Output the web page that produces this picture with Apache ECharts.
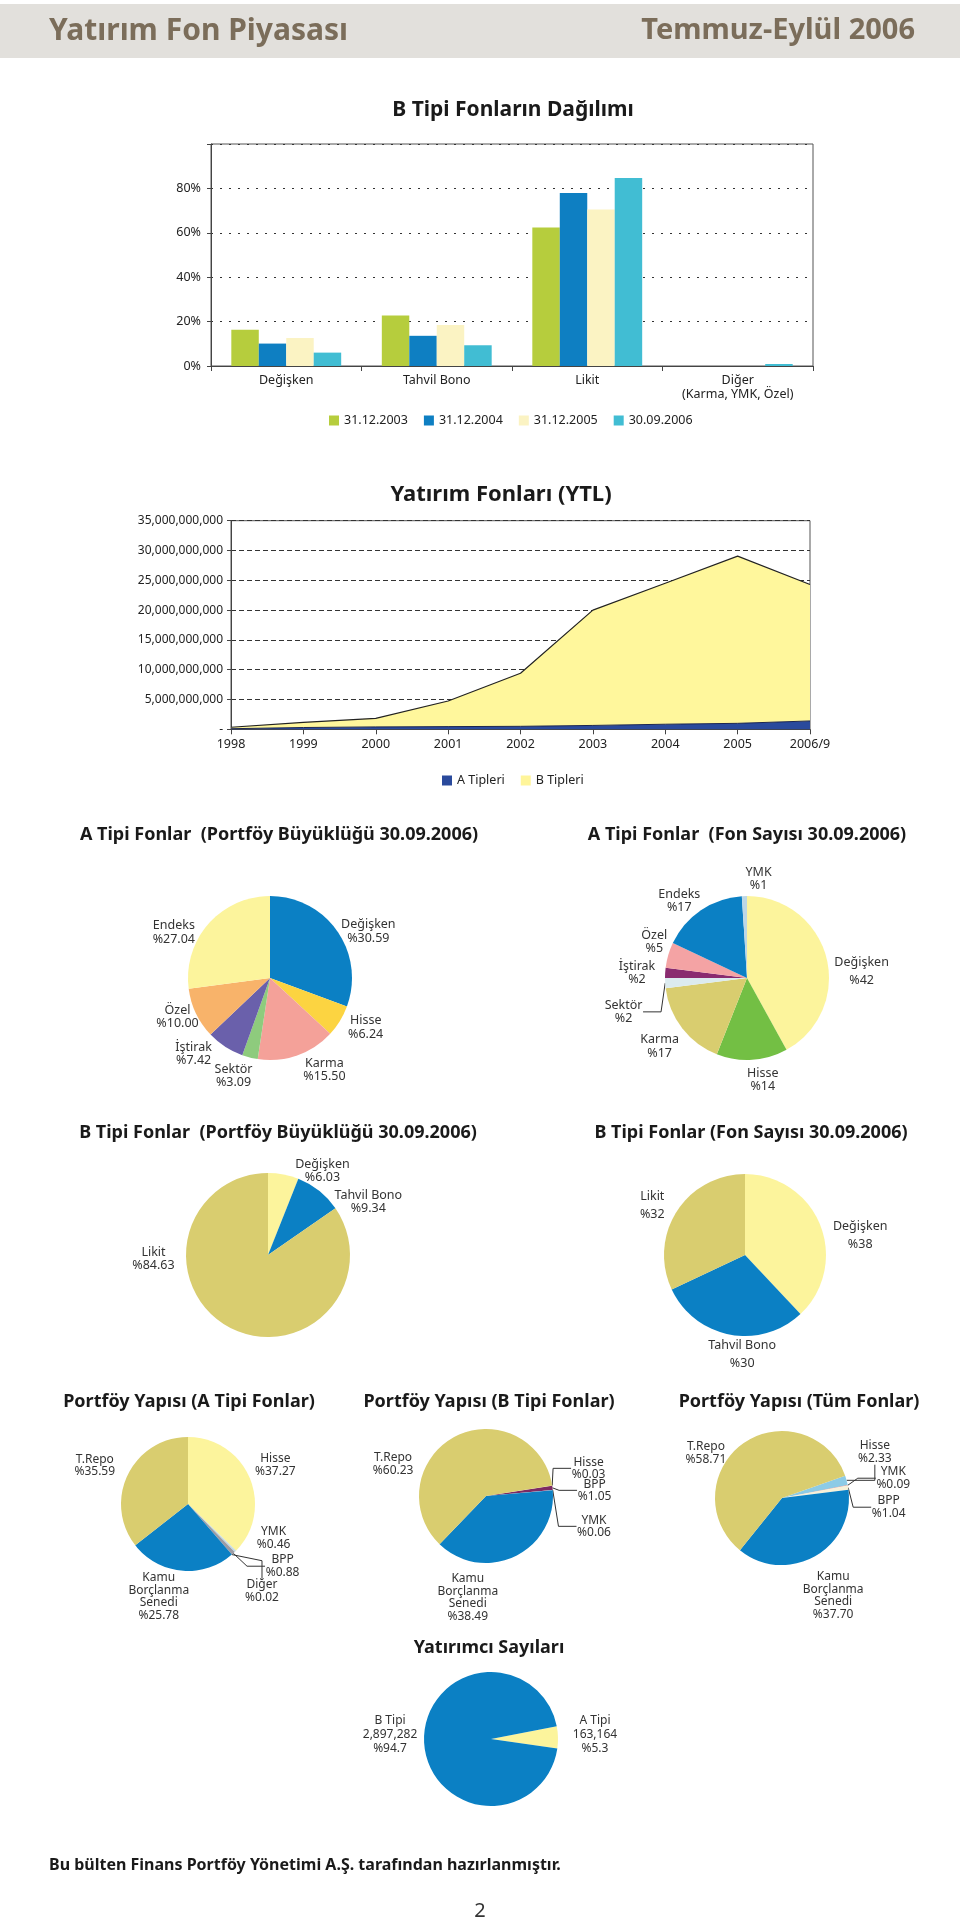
<!DOCTYPE html>
<html><head><meta charset="utf-8">
<script src="https://cdn.jsdelivr.net/npm/echarts@6/dist/echarts.min.js"></script>
<style>html,body{margin:0;padding:0;background:#fff}#c{width:960px;height:1925px}</style>
</head><body><div id="c"></div>
<script>
// ---------------- DATA ----------------
const barCategories = ['Değişken', 'Tahvil Bono', 'Likit', 'Diğer\n(Karma, YMK, Özel)'];
const barLegend = ['31.12.2003', '31.12.2004', '31.12.2005', '30.09.2006'];
const bar2003 = [16.3, 22.8, 62.4, 0];
const bar2004 = [10.1, 13.6, 77.9, 0];
const bar2005 = [12.6, 18.5, 70.5, 0];
const bar2006 = [6.03, 9.34, 84.63, 0.9];
const barTickLabels = [0, 20, 40, 60, 80];

const areaYears = ['1998', '1999', '2000', '2001', '2002', '2003', '2004', '2005', '2006/9'];
const areaLegend = ['A Tipleri', 'B Tipleri'];
const areaA = [100000000, 300000000, 400000000, 450000000, 500000000, 650000000, 850000000, 1000000000, 1400000000];
const areaB = [240000000, 870000000, 1440000000, 4300000000, 8900000000, 19350000000, 23650000000, 28050000000, 22900000000];

const aPortNames = ['Değişken', 'Hisse', 'Karma', 'Sektör', 'İştirak', 'Özel', 'Endeks'];
const aPortValues = [30.59, 6.24, 15.50, 3.09, 7.42, 10.00, 27.04];
const aCountNames = ['Değişken', 'Hisse', 'Karma', 'Sektör', 'İştirak', 'Özel', 'Endeks', 'YMK'];
const aCountValues = [42, 14, 17, 2, 2, 5, 17, 1];
const bPortNames = ['Değişken', 'Tahvil Bono', 'Likit'];
const bPortValues = [6.03, 9.34, 84.63];
const bCountNames = ['Değişken', 'Tahvil Bono', 'Likit'];
const bCountValues = [38, 30, 32];
const structANames = ['Hisse', 'YMK', 'BPP', 'Diğer', 'Kamu Borçlanma Senedi', 'T.Repo'];
const structAValues = [37.27, 0.46, 0.88, 0.02, 25.78, 35.59];
const structBNames = ['Hisse', 'BPP', 'YMK', 'Kamu Borçlanma Senedi', 'T.Repo'];
const structBValues = [0.03, 1.05, 0.06, 38.49, 60.23];
const structAllNames = ['Hisse', 'YMK', 'BPP', 'Kamu Borçlanma Senedi', 'T.Repo'];
const structAllValues = [2.33, 0.09, 1.04, 37.70, 58.71];
const investorNames = ['A Tipi', 'B Tipi'];
const investorValues = [163164, 2897282];

// ---------------- STYLE ----------------
const F = '"Noto Sans", "Open Sans", sans-serif';
const BLUE = '#0b80c4', KHAKI = '#d9cd6f', PALE = '#fcf49c';
const barColors = ['#b6cd3d', '#0e7fc2', '#fbf3c3', '#41bdd3'];

// small label offsets (px) relative to the library's own pie-label layout
const nudgeAPort = { 0: [13, 13], 1: [7, -5], 2: [20, -6], 3: [-11, -18], 4: [-5, -11], 5: [4, -6], 6: [-18, 23] };
const nudgeACount = { 0: [10, 20], 1: [9, -6], 2: [-2, 2], 3: [1, 6], 4: [-2, -4], 5: [11, -6], 6: [6, 2], 7: [15, 9] };
const nudgeBPort = { 0: [28, 12], 1: [21, 14], 2: [-61, -83] };
const nudgeBCount = { 0: [12, 21], 1: [18, -10], 2: [1, 10] };
const nudgeStructA = { 0: [-2, -1], 1: [17, -75], 2: [-11, 7], 3: [-25, 5], 4: [-20, -4], 5: [-6, 4] };
const nudgeStructB = { 0: [-7, -16], 1: [-1, -21], 2: [5, -12], 3: [-60, 14], 4: [-48, 54] };
const nudgeStructAll = { 0: [-15, -26], 1: [1, -27], 2: [1, -25], 3: [4, 13], 4: [-20, 34] };
const nudgeInvestors = { 0: [7, -2], 1: [-4, -7] };

const mctx = document.createElement('canvas').getContext('2d');
function textW(s, fs) { mctx.font = fs + 'px "Noto Sans"'; return Math.ceil(mctx.measureText(s).width) + 1; }

function txt(text, x, y, size, o) {
  o = o || {};
  const al = o.align || 'center';
  return { type: 'text', x: x, y: y, silent: true, z: 10,
    style: { text: text, fontSize: size, fontWeight: o.weight || 'bold', fontFamily: F,
      fill: o.color || '#1a1a1a', align: al, textAlign: al, verticalAlign: 'middle', textVerticalAlign: 'middle' } };
}

function pie(names, values, colors, o) {
  const lineIdx = o.lines || [];
  const nudge = o.nudge || {};
  const fs = o.fs || 12.5;
  const total = values.reduce(function (a, b) { return a + b; }, 0);
  return {
    type: 'pie', center: o.center, radius: o.r, startAngle: o.start, clockwise: true,
    avoidLabelOverlap: true, animation: false, silent: true,
    itemStyle: { borderWidth: 0 },
    label: { show: true, position: 'outside', fontFamily: F, fontSize: fs, color: '#333',
      lineHeight: o.lh || 13.5, distanceToLabelLine: 0 },
    labelLine: { show: false, length: o.len, length2: o.len2 || 0, lineStyle: { color: '#333', width: 1 } },
    labelLayout: function (p) {
      const n = nudge[p.dataIndex] || [0, 0];
      const r = p.labelRect;
      if (!r) { return {}; }
      const leftSide = (r.x + r.width / 2) < o.center[0];
      const ax = leftSide ? r.x + r.width : r.x;
      const y = r.y + r.height / 2 + n[1];
      if (lineIdx.indexOf(p.dataIndex) >= 0) {
        return { x: ax + n[0], y: y, verticalAlign: 'middle' };
      }
      return { x: ax + n[0], y: y, align: 'center', verticalAlign: 'middle' };
    },
    data: names.map(function (nm, i) {
      const ls = o.text(nm, values[i], total);
      let W = 0;
      ls.forEach(function (s) { W = Math.max(W, textW(s, fs)); });
      const lh = (o.itemLh && o.itemLh[i]) || o.lh || 13.5;
      const d = { name: nm, value: values[i], itemStyle: { color: colors[i] },
        label: { formatter: ls.map(function (s) { return '{ctr|' + s + '}'; }).join('\n'),
          rich: { ctr: { width: W, align: 'center', fontSize: fs, lineHeight: lh, fontFamily: F, color: '#333' } } } };
      if (lineIdx.indexOf(i) >= 0) {
        d.labelLine = { show: true, length: o.lineLen || 8, length2: o.lineLen2 || 18 };
        d.label.distanceToLabelLine = 4;
      }
      return d;
    })
  };
}
function pctText(dec, split) {
  return function (name, value) {
    return (split ? name.split(' ') : [name]).concat(['%' + Number(value).toFixed(dec)]);
  };
}

const chart = echarts.init(document.getElementById('c'), null, { renderer: 'canvas', width: 960, height: 1925 });

const option = {
  animation: false,
  backgroundColor: '#ffffff',
  textStyle: { fontFamily: F },
  graphic: [
    { type: 'rect', silent: true, shape: { x: 0, y: 4, width: 960, height: 54 }, style: { fill: '#e2e0dc' } },
    txt('Yatırım Fon Piyasası', 49, 31, 30, { align: 'left', color: '#7b6d5a' }),
    txt('Temmuz-Eylül 2006', 915, 31, 29, { align: 'right', color: '#7b6d5a' }),
    txt('B Tipi Fonların Dağılımı', 513, 110, 21),
    txt('Yatırım Fonları (YTL)', 501, 495, 22),
    txt('A Tipi Fonlar  (Portföy Büyüklüğü 30.09.2006)', 279, 835, 18),
    txt('A Tipi Fonlar  (Fon Sayısı 30.09.2006)', 747, 835, 18),
    txt('B Tipi Fonlar  (Portföy Büyüklüğü 30.09.2006)', 278, 1133, 18),
    txt('B Tipi Fonlar (Fon Sayısı 30.09.2006)', 751, 1133, 18),
    txt('Portföy Yapısı (A Tipi Fonlar)', 189, 1402, 18),
    txt('Portföy Yapısı (B Tipi Fonlar)', 489, 1402, 18),
    txt('Portföy Yapısı (Tüm Fonlar)', 799, 1402, 18),
    txt('Yatırımcı Sayıları', 489, 1648, 18),
    txt('Bu bülten Finans Portföy Yönetimi A.Ş. tarafından hazırlanmıştır.', 49, 1865, 16, { align: 'left' }),
    txt('2', 480, 1911, 20, { weight: 'normal', color: '#333' })
  ],
  grid: [
    { left: 211, top: 144, width: 602, height: 222, show: true, borderColor: '#555', borderWidth: 1, outerBoundsMode: 'none' },
    { left: 231, top: 520.7, width: 579, height: 208.6, show: true, borderColor: '#555', borderWidth: 1, outerBoundsMode: 'none' }
  ],
  xAxis: [
    { type: 'category', gridIndex: 0, data: barCategories,
      axisLine: { lineStyle: { color: '#444' } }, axisTick: { show: true, length: 5, lineStyle: { color: '#444' } },
      axisLabel: { color: '#222', fontSize: 12.5, margin: 7, lineHeight: 14, interval: 0 } },
    { type: 'category', gridIndex: 1, data: areaYears, boundaryGap: false,
      axisLine: { lineStyle: { color: '#444' } }, axisTick: { show: true, length: 5, lineStyle: { color: '#444' } },
      axisLabel: { color: '#222', fontSize: 12.5, margin: 9, interval: 0 } }
  ],
  yAxis: [
    { type: 'value', gridIndex: 0, min: 0, max: 100, interval: 20,
      axisLine: { show: true, lineStyle: { color: '#444' } }, axisTick: { show: true, length: 4, lineStyle: { color: '#444' } },
      axisLabel: { color: '#222', fontSize: 12.5, margin: 10,
        formatter: function (v) { return barTickLabels.indexOf(v) >= 0 ? v + '%' : ''; } },
      splitLine: { show: true, lineStyle: { color: '#333', width: 1.2, type: [2, 7] } } },
    { type: 'value', gridIndex: 1, min: 0, max: 35000000000, interval: 5000000000,
      axisLine: { show: true, lineStyle: { color: '#444' } }, axisTick: { show: true, length: 4, lineStyle: { color: '#444' } },
      axisLabel: { color: '#222', fontSize: 12, margin: 8,
        formatter: function (v) { return v === 0 ? '-' : v.toLocaleString('en-US'); } },
      splitLine: { show: true, lineStyle: { color: '#333', width: 1, type: [5, 3] } } }
  ],
  legend: [
    { data: barLegend, left: 324, top: 409, icon: 'rect', itemWidth: 10, itemHeight: 10, itemGap: 16,
      itemStyle: { borderWidth: 0 }, textStyle: { fontSize: 12.5, color: '#222', fontFamily: F } },
    { data: areaLegend, left: 437, top: 769, icon: 'rect', itemWidth: 10, itemHeight: 10, itemGap: 16,
      itemStyle: { borderWidth: 0 }, textStyle: { fontSize: 12.5, color: '#222', fontFamily: F } }
  ],
  series: [
    { type: 'bar', name: barLegend[0], data: bar2003, xAxisIndex: 0, yAxisIndex: 0, barGap: '0%', barCategoryGap: '27%', itemStyle: { color: barColors[0] } },
    { type: 'bar', name: barLegend[1], data: bar2004, xAxisIndex: 0, yAxisIndex: 0, barGap: '0%', barCategoryGap: '27%', itemStyle: { color: barColors[1] } },
    { type: 'bar', name: barLegend[2], data: bar2005, xAxisIndex: 0, yAxisIndex: 0, barGap: '0%', barCategoryGap: '27%', itemStyle: { color: barColors[2] } },
    { type: 'bar', name: barLegend[3], data: bar2006, xAxisIndex: 0, yAxisIndex: 0, barGap: '0%', barCategoryGap: '27%', itemStyle: { color: barColors[3] } },
    { type: 'line', name: areaLegend[0], data: areaA, xAxisIndex: 1, yAxisIndex: 1, stack: 'fund', symbol: 'none',
      itemStyle: { color: '#2a4a9c' }, lineStyle: { color: '#1b2550', width: 1 }, areaStyle: { color: '#2a4a9c', opacity: 1 } },
    { type: 'line', name: areaLegend[1], data: areaB, xAxisIndex: 1, yAxisIndex: 1, stack: 'fund', symbol: 'none',
      itemStyle: { color: '#fff59a' }, lineStyle: { color: '#222', width: 1.2 }, areaStyle: { color: '#fff79c', opacity: 1 } },

    pie(aPortNames, aPortValues, [BLUE, '#fcd441', '#f4a199', '#8ecb7d', '#6a60ab', '#f8b36a', PALE],
      { center: [270, 978], r: 82, start: 90, len: 22, nudge: nudgeAPort, text: pctText(2) }),
    pie(aCountNames, aCountValues, [PALE, '#73bf44', KHAKI, '#dcebef', '#8a2b6f', '#f4a3a4', BLUE, '#bcd7e6'],
      { center: [747, 978], r: 82, start: 90, len: 26, lines: [3], itemLh: { 0: 18 }, nudge: nudgeACount, text: pctText(0) }),
    pie(bPortNames, bPortValues, [PALE, BLUE, KHAKI],
      { center: [268, 1255], r: 82, start: 90, len: 16, len2: 8, nudge: nudgeBPort, text: pctText(2) }),
    pie(bCountNames, bCountValues, [PALE, BLUE, KHAKI],
      { center: [745, 1255], r: 81, start: 90, len: 30, lh: 18, nudge: nudgeBCount, text: pctText(0) }),
    pie(structANames, structAValues, [PALE, '#c3dbe6', '#9c9ca4', '#7a2a5a', BLUE, KHAKI],
      { center: [188, 1504], r: 67, start: 90, len: 30, fs: 12, lh: 12.5, lines: [2, 3], nudge: nudgeStructA, text: pctText(2, true) }),
    pie(structBNames, structBValues, [PALE, '#7d2a62', '#c3dbe6', BLUE, KHAKI],
      { center: [486, 1496], r: 67, start: 9, len: 30, fs: 12, lh: 12.5, lines: [0, 1, 2], nudge: nudgeStructB, text: pctText(2, true) }),
    pie(structAllNames, structAllValues, ['#8ccbe6', '#d98080', '#f7f1d8', BLUE, KHAKI],
      { center: [782, 1498], r: 67, start: 19.5, len: 30, fs: 12, lh: 12.5, lines: [0, 1, 2], nudge: nudgeStructAll, text: pctText(2, true) }),
    pie(investorNames, investorValues, [PALE, BLUE],
      { center: [491, 1739], r: 67, start: 11, len: 30, fs: 12, lh: 14, nudge: nudgeInvestors,
        text: function (name, value, total) { return [name, value.toLocaleString('en-US'), '%' + (value / total * 100).toFixed(1)]; } })
  ]
};
chart.setOption(option);
</script>
</body></html>
